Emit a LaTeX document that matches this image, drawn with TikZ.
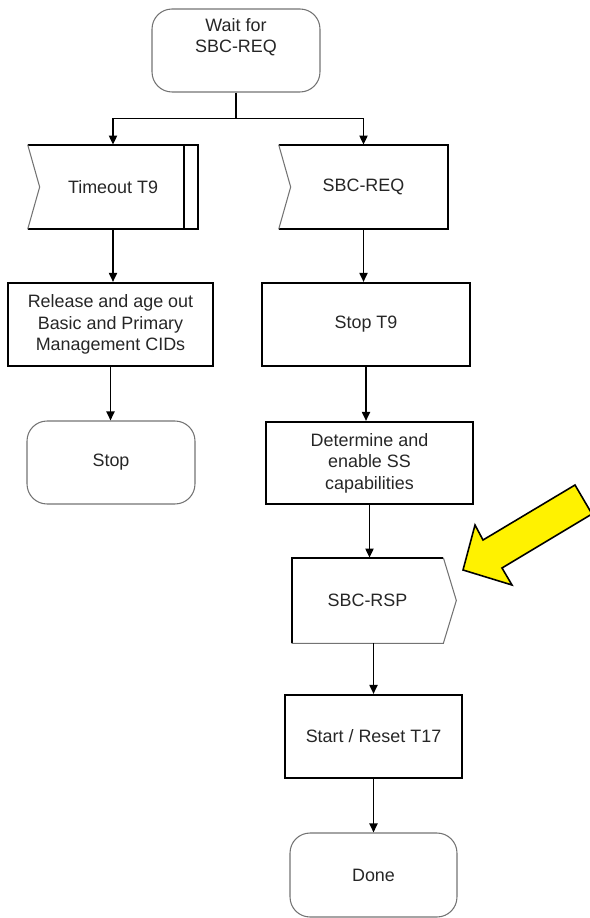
\documentclass[tikz,border=0pt]{standalone}
\usepackage{fontspec}
\setmainfont{Liberation Sans}
\usetikzlibrary{arrows.meta,calc}

\begin{document}
\begin{tikzpicture}[
x=0.02cm, y=-0.02cm,
font=\fontsize{10.2}{12.2}\selectfont,
every node/.style={text=black!85, align=center, inner sep=2pt},
proc/.style={draw, line width=1.2pt, minimum height=1.66cm},
term/.style={draw=black!55, line width=0.6pt, rounded corners=0.4cm, minimum width=3.36cm, minimum height=1.66cm},
sig/.style={minimum height=1.68cm},
thinedge/.style={draw=black!55, line width=0.6pt},
thickedge/.style={draw=black, line width=1.2pt},
link/.style={line width=1pt},
flow/.style={link, -{Triangle[length=0.18cm,width=0.16cm]}},
note/.style={fill=yellow, draw=black, line width=0.9pt, line join=miter}
]
    \useasboundingbox (0,0) rectangle (589,918);

    % start box
    \node[term] (wait) at (236,50.5) {};
    \node (waittxt) at (236,37) {Wait for\\SBC-REQ};

    % the two inputs
    \node[sig, minimum width=3.4cm] (tmo) at (113,187) {Timeout T9};
    \node[sig, minimum width=3.38cm] (req) at (363.5,187) {SBC-REQ};

    \draw[thickedge] (tmo.north west) -- (tmo.north east) -- (tmo.south east) -- (tmo.south west);
    \draw[thinedge] (tmo.north west) -- ($(tmo.west)+(12,0)$) -- (tmo.south west);
    \draw[thickedge] ($(tmo.north east)+(-14,0)$) -- ($(tmo.south east)+(-14,0)$);

    \draw[thickedge] (req.north west) -- (req.north east) -- (req.south east) -- (req.south west);
    \draw[thinedge] (req.north west) -- ($(req.west)+(12,0)$) -- (req.south west);

    % left branch
    \node[proc, minimum width=4.1cm] (rel) at (110.5,324.5) {Release and age out\\Basic and Primary\\Management CIDs};
    \node[term] (stop) at (111,462.5) {Stop};

    % right branch
    \node[proc, minimum width=4.16cm] (st9) at (366,324.5) {Stop T9};
    \node[proc, minimum width=4.14cm, minimum height=1.64cm] (det) at (369.5,463) {Determine and\\enable SS\\capabilities};
    \node[sig, minimum width=3.02cm, minimum height=1.7cm] (rsp) at (367.5,600.5) {SBC-RSP};
    \node[proc, minimum width=3.54cm] (start) at (373.5,736.5) {Start / Reset T17};
    \node[term, minimum width=3.34cm, minimum height=1.68cm] (done) at (373.5,875) {Done};

    \draw[thickedge] (rsp.south west) -- (rsp.north west) -- (rsp.north east);
    \draw[thinedge] (rsp.north east) -- ($(rsp.east)+(13,0)$) -- (rsp.south east) -- (rsp.south west);

    % connectors
    \draw[link] (wait.south) -- ++(0,26) coordinate (split);
    \draw[flow] (split) -| (tmo.north);
    \draw[flow] (split) -| (req.north);
    \draw[flow] (tmo.south) -- (tmo.south |- rel.north);
    \draw[flow] (rel.south) -- (rel.south |- stop.north);
    \draw[flow] (req.south) -- (req.south |- st9.north);
    \draw[flow] (st9.south) -- (st9.south |- det.north);
    \draw[flow] (det.south) -- (det.south |- rsp.north);
    \draw[flow] (rsp.south -| start.north) -- (start.north);
    \draw[flow] (start.south) -- (start.south |- done.north);

    % yellow pointer
    \draw[note] (463,570) -- (475,525) -- (483,540) -- (575,485) -- (592,514)
        -- (502,568) -- (512,585) -- cycle;

\end{tikzpicture}
\end{document}
